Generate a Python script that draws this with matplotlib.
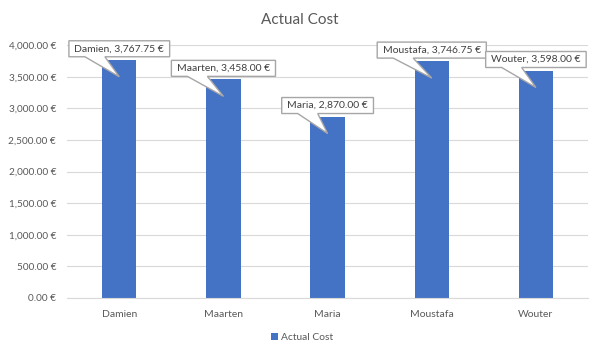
#!/usr/bin/env python3
# -*- coding: utf-8 -*-
"""
Bar chart of actual cost per person with callout labels.
"""

import matplotlib
matplotlib.use('Agg')
import matplotlib.pyplot as plt
from matplotlib.patches import Polygon
from matplotlib.ticker import FuncFormatter, MultipleLocator
from matplotlib.transforms import IdentityTransform, offset_copy

names = ['Damien', 'Maarten', 'Maria', 'Moustafa', 'Wouter']
actual_cost = [3767.75, 3458.00, 2870.00, 3746.75, 3598.00]

BAR = '#4472C4'
GREY = '#595959'

plt.rcParams['font.family'] = ['Lato', 'DejaVu Sans']

figure = plt.figure(figsize=(6.0, 3.55), dpi=100)
axes = figure.add_axes([0.112, 0.1606, 0.868, 0.7124])

x = list(range(len(names)))
axes.bar(x, actual_cost, width=0.33, color=BAR, label='Actual Cost', zorder=2)

axes.set_xlim(-0.5, len(names) - 0.5)
axes.set_ylim(0, 4000)
axes.yaxis.set_major_locator(MultipleLocator(500))
axes.yaxis.set_major_formatter(FuncFormatter(lambda v, p: '{:,.2f} €'.format(v)))
axes.grid(axis='y', color='#d9d9d9', linewidth=0.8, zorder=0)
axes.set_xticks(x)
axes.set_xticklabels(names)
axes.tick_params(axis='both', length=0, colors=GREY, labelsize=7.2)
axes.tick_params(axis='x', pad=9, labelsize=7.5)
axes.tick_params(axis='y', pad=8)
for side in ['top', 'right', 'left']:
    axes.spines[side].set_visible(False)
axes.spines['bottom'].set_color('#d9d9d9')

figure.text(0.5, 0.944, 'Actual Cost', ha='center', va='center',
            fontsize=11, color=GREY)
figure.legend(loc='center', bbox_to_anchor=(0.503, 0.05), frameon=False,
              fontsize=7.4, labelcolor=GREY, handlelength=0.7,
              handleheight=0.7, handletextpad=0.3)

# callout labels: text first, then measure it and draw the box + pointer
labels = []
for i, (name, value) in enumerate(zip(names, actual_cost)):
    trans = offset_copy(axes.transData, figure, x=0, y=11, units='dots')
    t = axes.text(i, value, '{}, {:,.2f} €'.format(name, value),
                  transform=trans, ha='center', va='center', fontsize=7.5,
                  color='#404040', zorder=6)
    labels.append(t)

figure.canvas.draw()
renderer = figure.canvas.get_renderer()
for i, (t, value) in enumerate(zip(labels, actual_cost)):
    ext = t.get_window_extent(renderer)
    bx, by = axes.transData.transform((i, value))
    cx = (ext.x0 + ext.x1) / 2
    left, right = ext.x0 - 5.5, ext.x1 + 5.5
    bottom, top = by + 3, by + 19
    tip = (bx, by - 17)
    verts = [(left, bottom), (left + 16, bottom), tip, (left + 36, bottom),
             (right, bottom), (right, top), (left, top)]
    axes.add_patch(Polygon(verts, closed=True, fc='white', ec='#a6a6a6',
                           lw=1, transform=IdentityTransform(),
                           clip_on=False, zorder=5))

figure.savefig('out.png')
plt.close()
